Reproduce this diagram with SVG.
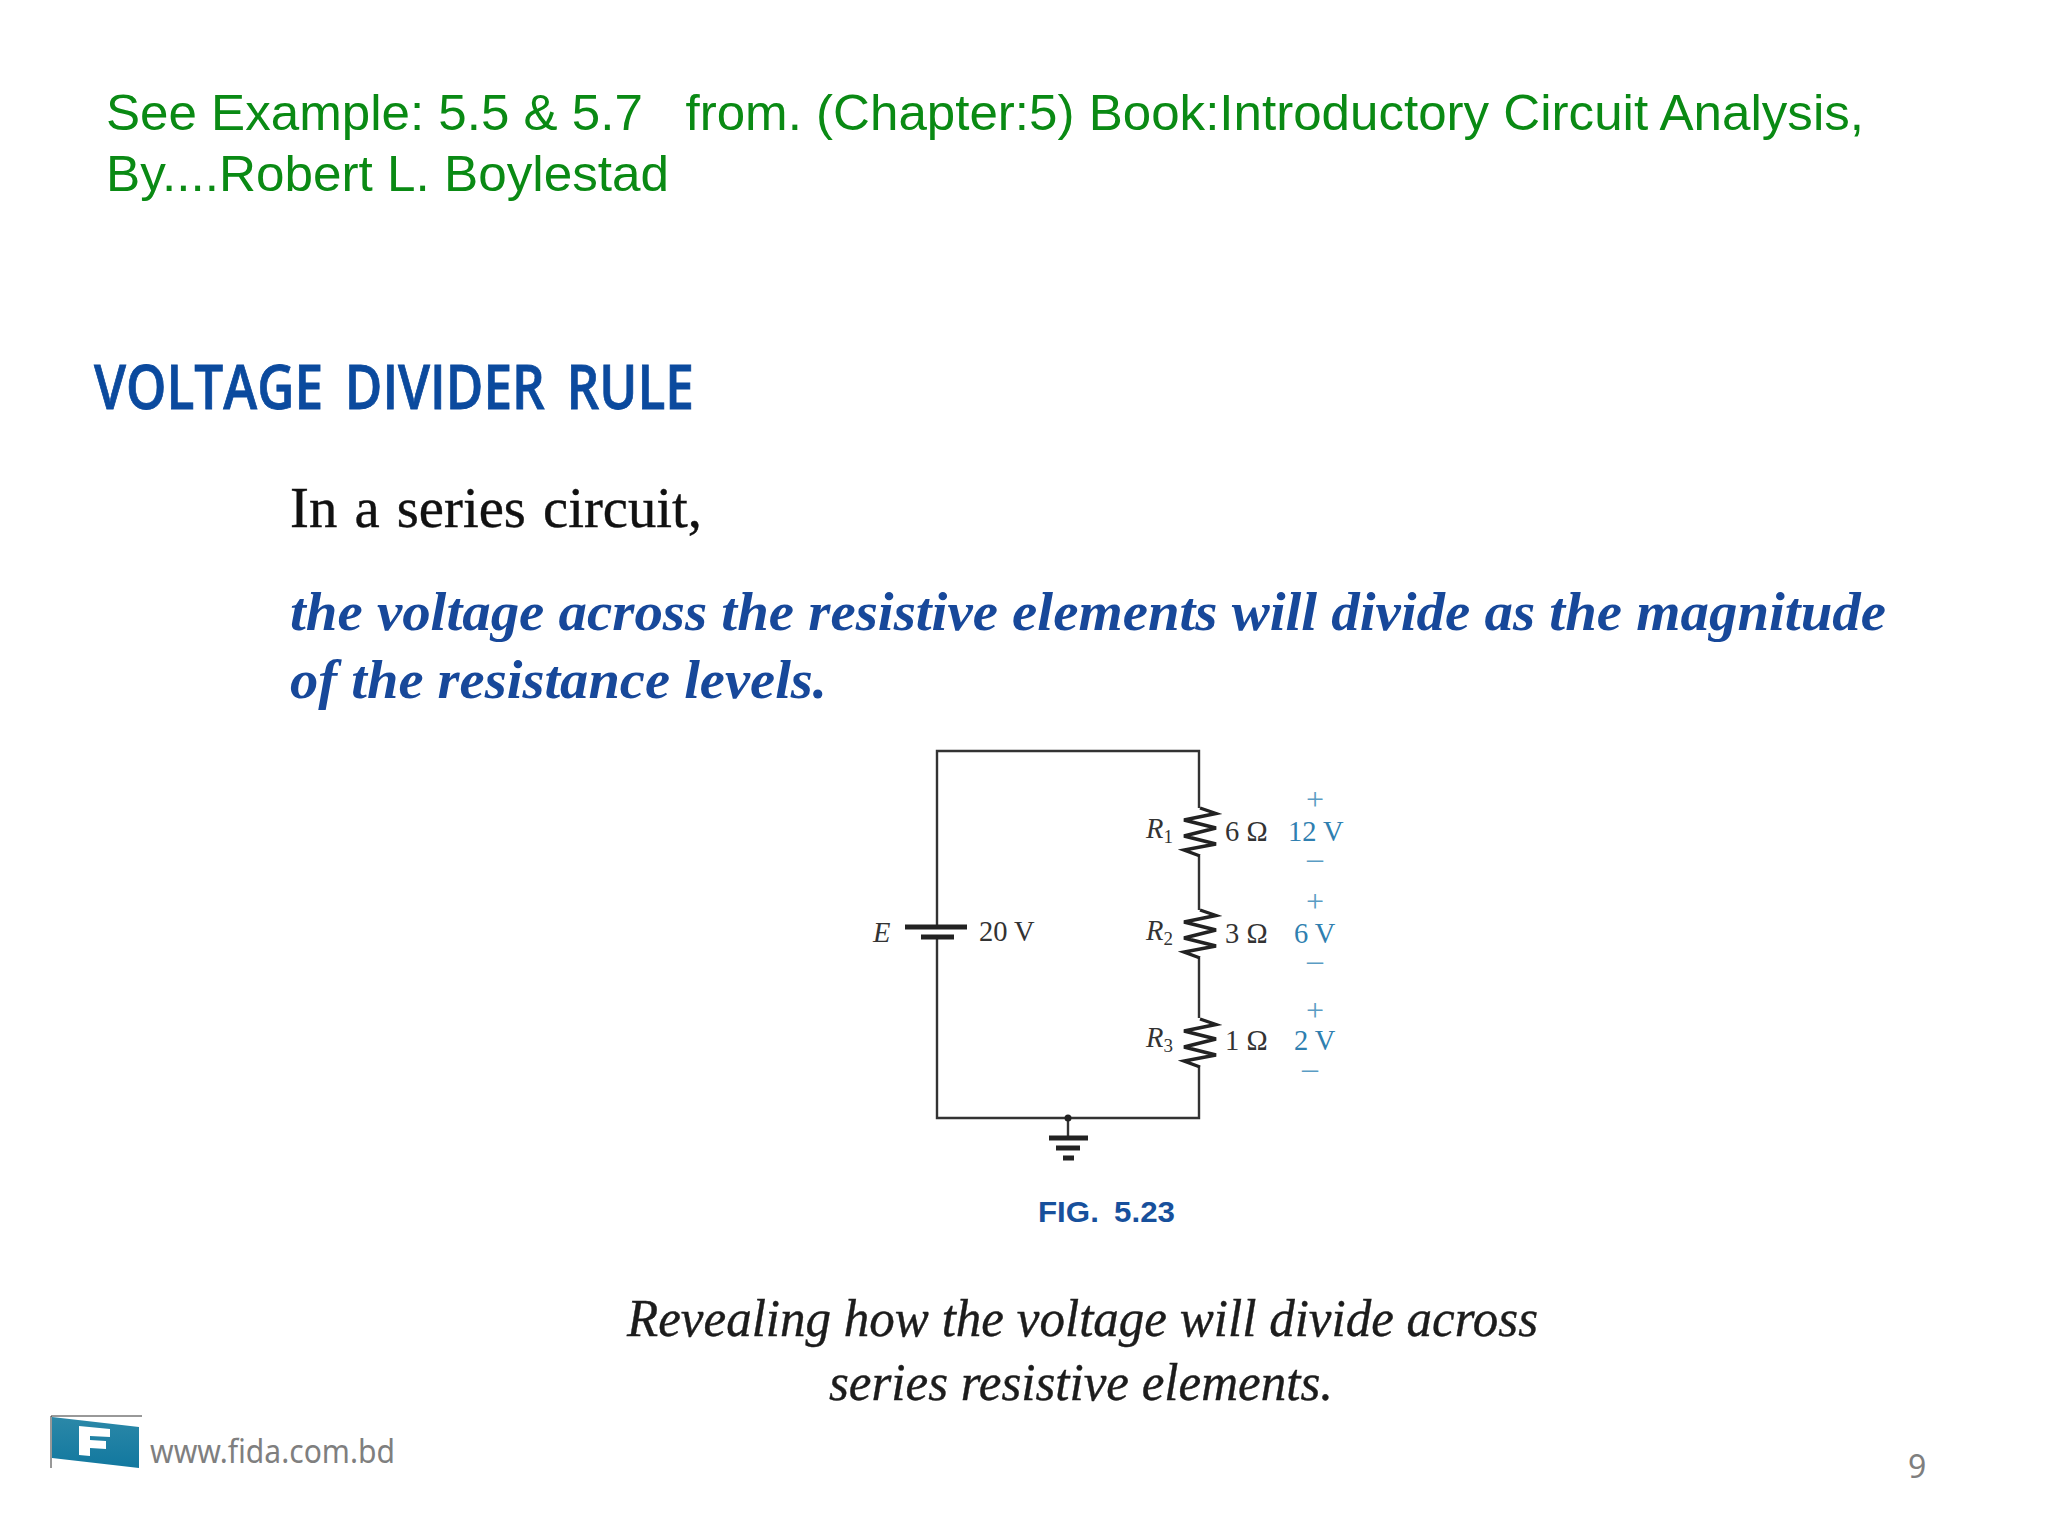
<svg xmlns="http://www.w3.org/2000/svg" width="2048" height="1536" viewBox="0 0 2048 1536">
<defs>
<style>
.green{font-family:"Liberation Sans",Arial,sans-serif;font-size:50px;fill:#0a8a14}
.title{font-family:"Open Sans",sans-serif;font-weight:600;font-size:62px;fill:#0b4a9e;stroke:#0b4a9e;stroke-width:.8;word-spacing:-3px}
.body{font-family:"Liberation Serif",serif;font-size:56px;fill:#111;word-spacing:3px;stroke:#111;stroke-width:.4}
.em{font-family:"Liberation Serif",serif;font-size:54px;font-weight:bold;font-style:italic;fill:#17489a}
.cap{font-family:"Liberation Serif",serif;font-size:52px;font-style:italic;fill:#1c1c1c;stroke:#1c1c1c;stroke-width:.4}
.fig{font-family:"Liberation Sans",sans-serif;font-size:30px;font-weight:bold;fill:#17509c;word-spacing:-1px}
.lab{font-family:"Liberation Serif",serif;font-size:28.500px;fill:#333}
.it{font-style:italic}
.sub{font-size:19px;font-style:normal}
.val{font-family:"Liberation Serif",serif;font-size:28.500px;fill:#2f7fb0}
.sign{font-family:"Liberation Serif",serif;font-size:32px;fill:#5a9cc4;text-anchor:middle}
.foot{font-family:"Noto Sans",sans-serif;font-size:32px;fill:#7f7f7f}
.wire{fill:none;stroke:#333;stroke-width:2.4}
.plate{stroke:#222;stroke-width:5;fill:none}
.res{fill:none;stroke:#222;stroke-width:3.4;stroke-linejoin:miter}
</style>
<linearGradient id="logo" x1="0" y1="0" x2="0" y2="1">
<stop offset="0" stop-color="#2b88a8"/>
<stop offset="1" stop-color="#12789f"/>
</linearGradient>
<path id="zig" class="res" d="M0 0L16 5.500L-16 12L16 20L-16 28L16 36L-16 42L0 48"/>
</defs>
<rect width="2048" height="1536" fill="#fff"/>
<g id="heading-note">
<text class="green" x="106" y="130" textLength="1758" lengthAdjust="spacingAndGlyphs" xml:space="preserve">See Example: 5.5 &amp; 5.7   from. (Chapter:5) Book:Introductory Circuit Analysis,</text>
<text class="green" x="106" y="191" textLength="563" lengthAdjust="spacingAndGlyphs">By....Robert L. Boylestad</text>
</g>
<g id="rule-text">
<text class="title" x="94" y="409" textLength="600" lengthAdjust="spacingAndGlyphs" xml:space="preserve">VOLTAGE  DIVIDER  RULE</text>
<text class="body" x="290" y="527" textLength="412" lengthAdjust="spacingAndGlyphs">In a series circuit,</text>
<text class="em" x="290" y="630" textLength="1596" lengthAdjust="spacingAndGlyphs">the voltage across the resistive elements will divide as the magnitude</text>
<text class="em" x="290" y="698" textLength="537" lengthAdjust="spacingAndGlyphs">of the resistance levels.</text>
</g>
<g id="connectors">
<path class="wire" d="M937 927V751H1199V808M1199 856V910M1199 958V1018M1199 1066V1118H937V937"/>
<path class="wire" d="M1068 1118V1136"/>
</g>
<g id="battery">
<path class="plate" d="M905 927H967M921 937H954"/>
<text class="lab it" x="873" y="942">E</text>
<text class="lab" x="979" y="941">20 V</text>
</g>
<g id="r1">
<use href="#zig" x="1200" y="808"/>
<text class="lab it" x="1146" y="838">R<tspan class="sub" dy="5">1</tspan></text>
<text class="lab" x="1225" y="841">6 Ω</text>
<text class="val" x="1288" y="841">12 V</text>
<text class="sign" x="1315" y="810">+</text>
<text class="sign" x="1315" y="869">–</text>
</g>
<g id="r2">
<use href="#zig" x="1200" y="910"/>
<text class="lab it" x="1146" y="940">R<tspan class="sub" dy="5">2</tspan></text>
<text class="lab" x="1225" y="943">3 Ω</text>
<text class="val" x="1294" y="943">6 V</text>
<text class="sign" x="1315" y="912">+</text>
<text class="sign" x="1315" y="971">–</text>
</g>
<g id="r3">
<use href="#zig" x="1200" y="1019"/>
<text class="lab it" x="1146" y="1047">R<tspan class="sub" dy="5">3</tspan></text>
<text class="lab" x="1225" y="1050">1 Ω</text>
<text class="val" x="1294" y="1050">2 V</text>
<text class="sign" x="1315" y="1021">+</text>
<text class="sign" x="1310" y="1079">–</text>
</g>
<g id="ground">
<circle cx="1068" cy="1118" r="3.500" fill="#222"/>
<path class="plate" d="M1049 1138H1088M1056 1148H1080M1063 1158H1074"/>
</g>
<text id="fig-label" class="fig" x="1038" y="1222" textLength="137" lengthAdjust="spacingAndGlyphs" xml:space="preserve">FIG.  5.23</text>
<g id="caption">
<text class="cap" x="627" y="1336" textLength="911" lengthAdjust="spacingAndGlyphs">Revealing how the voltage will divide across</text>
<text class="cap" x="829" y="1400" textLength="504" lengthAdjust="spacingAndGlyphs">series resistive elements.</text>
</g>
<g id="footer">
<path d="M51 1416H142M51 1416V1468" stroke="#333" stroke-width="1" fill="none"/>
<path d="M52 1417L139 1427V1468L52 1458Z" fill="url(#logo)"/>
<path d="M79 1426L110 1429V1437L90 1436V1440L106 1441V1449L90 1448V1456L79 1455Z" fill="#fff"/>
<text class="foot" x="150" y="1463" textLength="245" lengthAdjust="spacingAndGlyphs">www.fida.com.bd</text>
<text class="foot" x="1908" y="1478">9</text>
</g>
</svg>
